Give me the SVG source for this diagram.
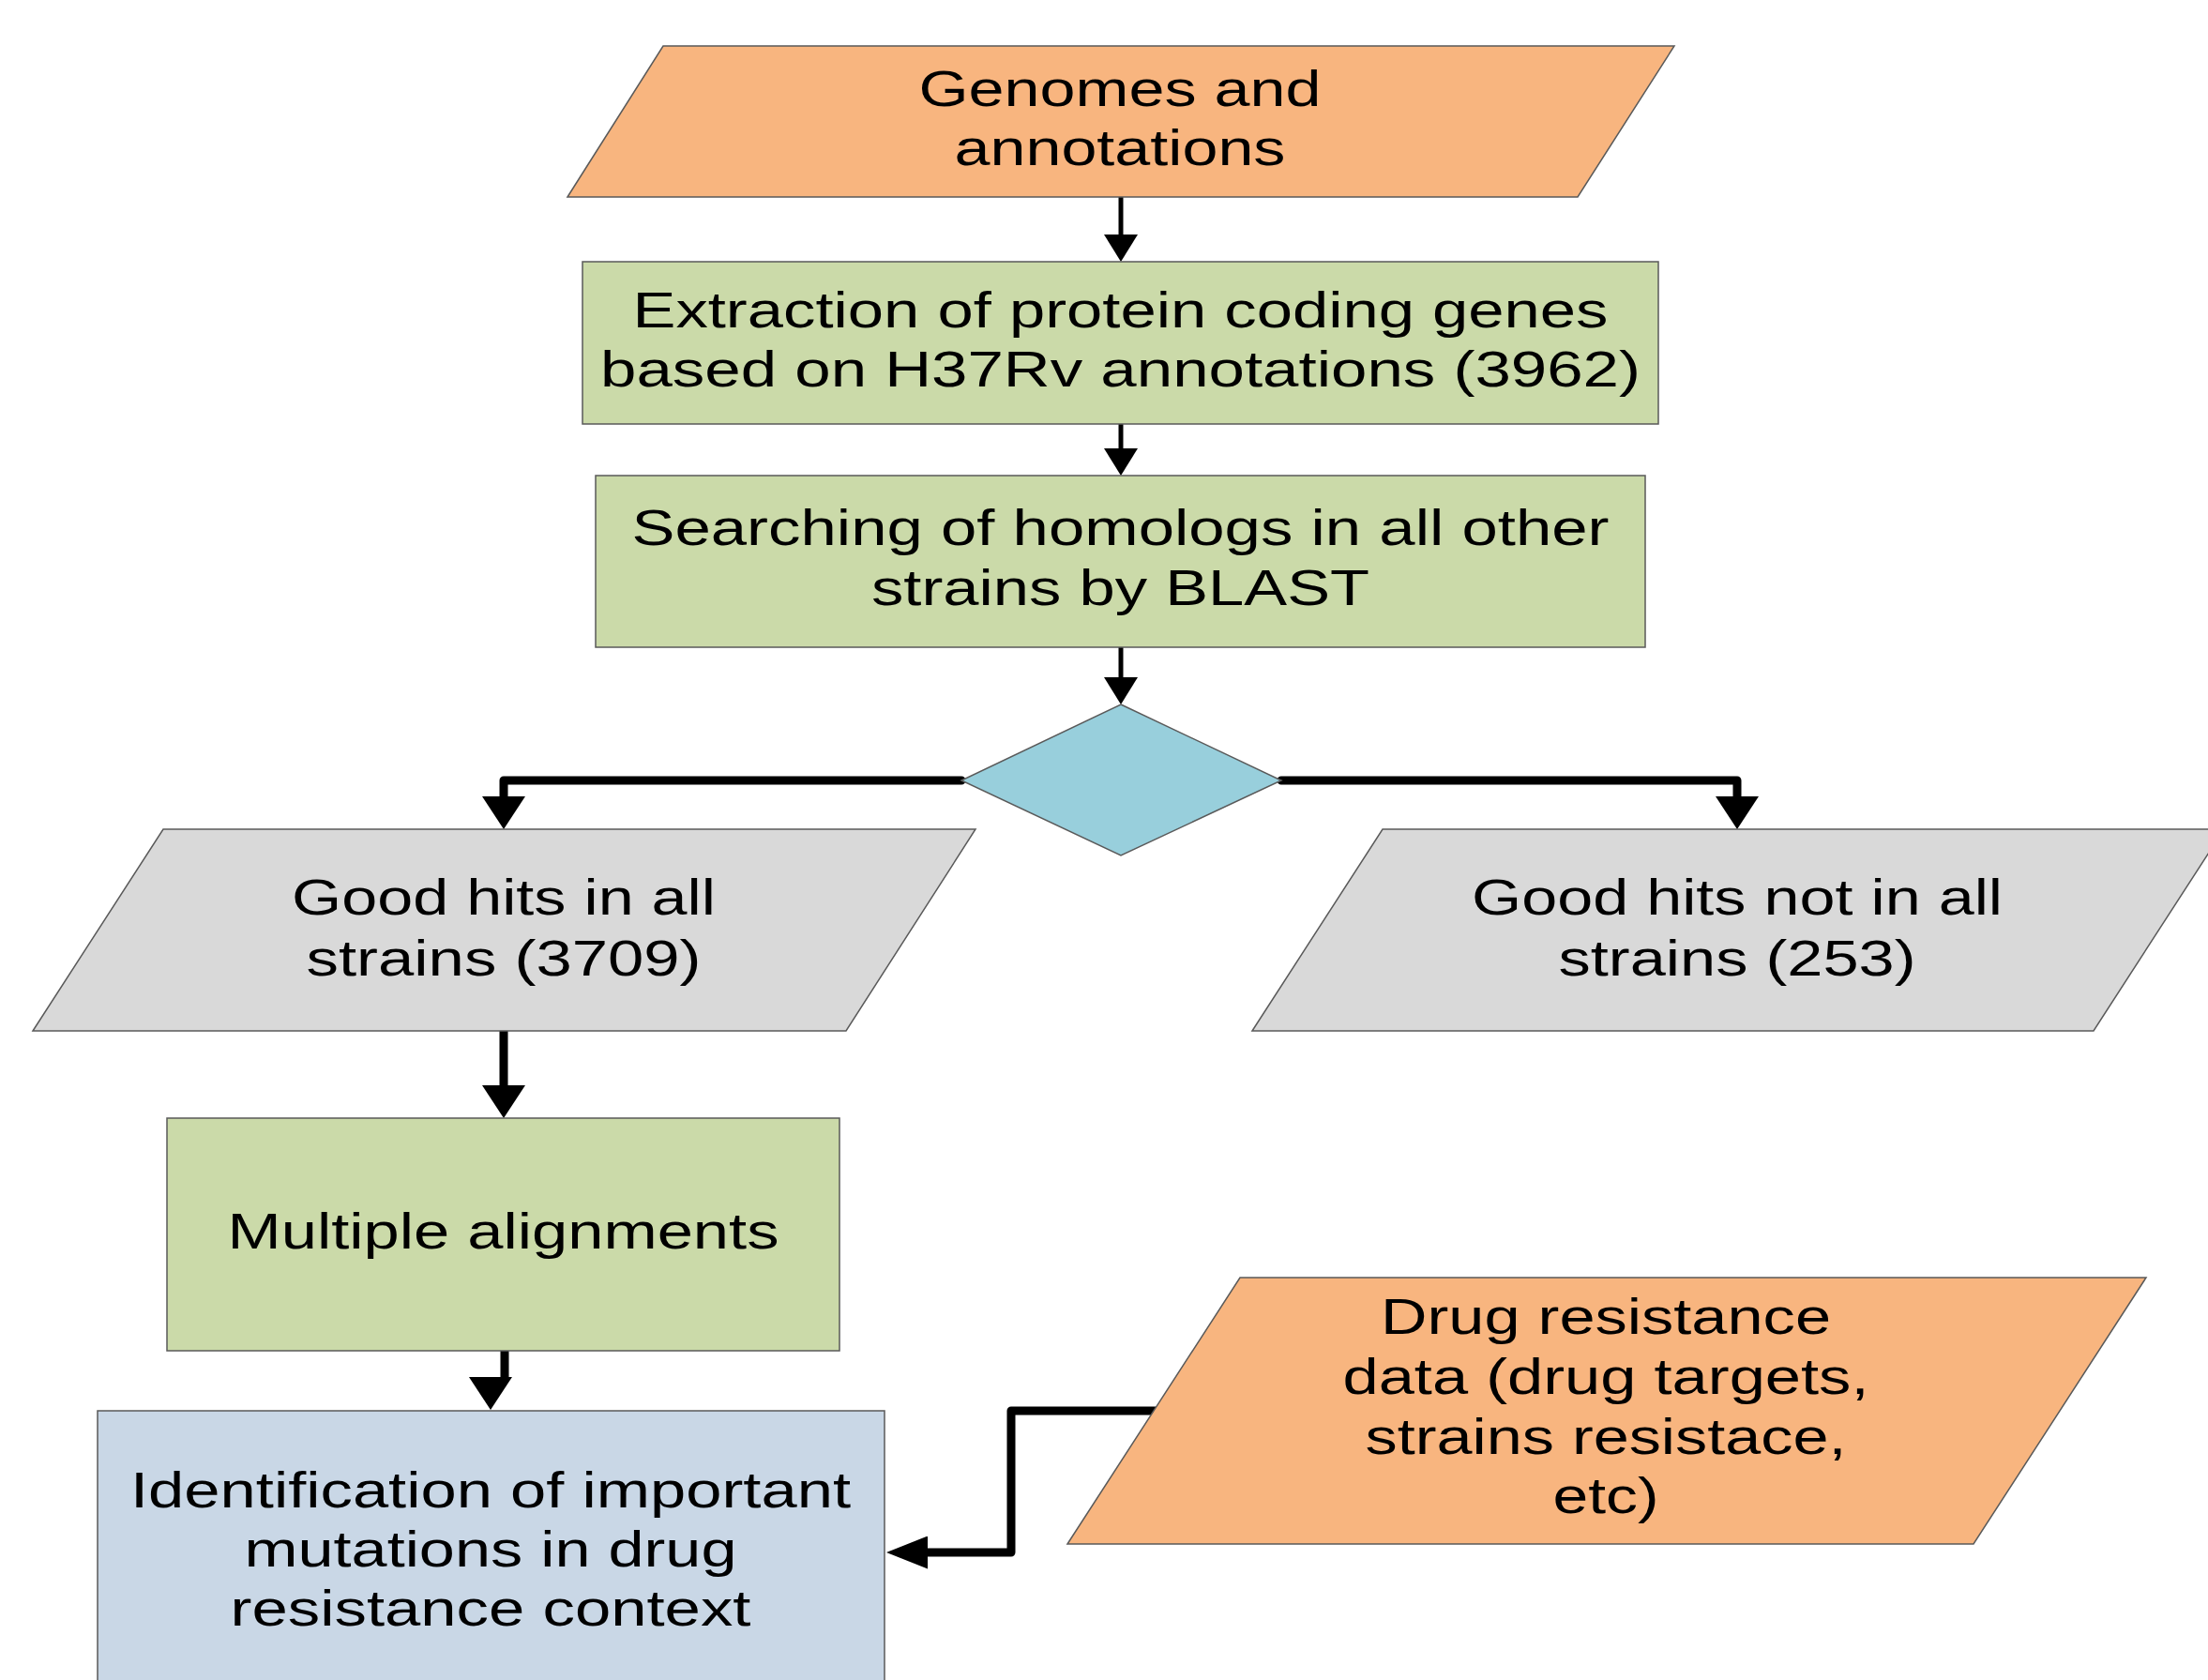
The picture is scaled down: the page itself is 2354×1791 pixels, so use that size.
<svg xmlns="http://www.w3.org/2000/svg" width="2354" height="1791" viewBox="0 0 2354 1791">
<style>
.node{stroke:#5a5a5a;stroke-width:1.5}
.orange{fill:#F8B57F}
.green{fill:#CBDAA9}
.gray{fill:#D9D9D9}
.teal{fill:#98CFDC}
.blue{fill:#C9D7E6}
text{font-family:"Liberation Sans",Arial,sans-serif;font-size:53px;fill:#000;text-anchor:middle}
.thin{fill:none;stroke:#000;stroke-width:5;marker-end:url(#ah)}
.thick{fill:none;stroke:#000;stroke-width:9;stroke-linejoin:round;stroke-linecap:round}
</style>
<defs>
<marker id="ah" markerUnits="userSpaceOnUse" markerWidth="29" markerHeight="36" refX="1" refY="18" orient="auto"><path d="M0,0 L29,18 L0,36 z" fill="#000"/></marker>
<marker id="aw" markerUnits="userSpaceOnUse" markerWidth="35" markerHeight="46" refX="1" refY="23" orient="auto"><path d="M0,0 L35,23 L0,46 z" fill="#000"/></marker>
<marker id="ahz" markerUnits="userSpaceOnUse" markerWidth="44" markerHeight="35" refX="1" refY="17.5" orient="auto"><path d="M0,0 L44,17.5 L0,35 z" fill="#000"/></marker>
</defs>
<rect width="2354" height="1791" fill="#fff"/>
<g id="connectors">
<path class="thin" d="M1195,210 V251"/>
<path class="thin" d="M1195,452 V479"/>
<path class="thin" d="M1195,690 V723"/>
<path class="thick" marker-end="url(#aw)" d="M1025,832 H537 V850"/>
<path class="thick" marker-end="url(#aw)" d="M1366,832 H1852 V850"/>
<path class="thick" marker-end="url(#aw)" d="M537,1099 V1158"/>
<path class="thick" style="stroke-linecap:butt" marker-end="url(#aw)" d="M538,1440 V1469 M523,1468 V1469"/>
<path class="thick" marker-end="url(#ahz)" d="M1232,1504 H1078 V1655 H988"/>
</g>
<g id="genomes">
<polygon class="node orange" points="605,210 707,49 1785,49 1682,210"/>
<text x="1194" y="113" textLength="429" lengthAdjust="spacingAndGlyphs">Genomes and</text>
<text x="1194" y="176" textLength="353" lengthAdjust="spacingAndGlyphs">annotations</text>
</g>
<g id="extraction">
<rect class="node green" x="621" y="279" width="1147" height="173"/>
<text x="1194.5" y="349" textLength="1040" lengthAdjust="spacingAndGlyphs">Extraction of protein coding genes</text>
<text x="1194.5" y="412" textLength="1109" lengthAdjust="spacingAndGlyphs">based on H37Rv annotations (3962)</text>
</g>
<g id="searching">
<rect class="node green" x="635" y="507" width="1119" height="183"/>
<text x="1194.5" y="581" textLength="1042" lengthAdjust="spacingAndGlyphs">Searching of homologs in all other</text>
<text x="1194.5" y="645" textLength="531" lengthAdjust="spacingAndGlyphs">strains by BLAST</text>
</g>
<g id="decision">
<polygon class="node teal" points="1195,751 1366,832 1195,912 1025,832"/>
</g>
<g id="good-all">
<polygon class="node gray" points="35,1099 174,884 1040,884 902,1099"/>
<text x="537" y="975" textLength="452" lengthAdjust="spacingAndGlyphs">Good hits in all</text>
<text x="537" y="1040" textLength="421" lengthAdjust="spacingAndGlyphs">strains (3709)</text>
</g>
<g id="good-not-all">
<polygon class="node gray" points="1335,1099 1474,884 2371,884 2232,1099"/>
<text x="1852" y="975" textLength="566" lengthAdjust="spacingAndGlyphs">Good hits not in all</text>
<text x="1852" y="1040" textLength="381" lengthAdjust="spacingAndGlyphs">strains (253)</text>
</g>
<g id="multiple">
<rect class="node green" x="178" y="1192" width="717" height="248"/>
<text x="536.5" y="1331" textLength="588" lengthAdjust="spacingAndGlyphs">Multiple alignments</text>
</g>
<g id="identification">
<rect class="node blue" x="104" y="1504" width="839" height="320"/>
<text x="523" y="1607" textLength="768" lengthAdjust="spacingAndGlyphs">Identification of important</text>
<text x="523" y="1670" textLength="525" lengthAdjust="spacingAndGlyphs">mutations in drug</text>
<text x="523" y="1733" textLength="555" lengthAdjust="spacingAndGlyphs">resistance context</text>
</g>
<g id="drug-data">
<polygon class="node orange" points="1138,1646 1322,1362 2288,1362 2104,1646"/>
<text x="1712" y="1422" textLength="480" lengthAdjust="spacingAndGlyphs">Drug resistance</text>
<text x="1712" y="1486" textLength="561" lengthAdjust="spacingAndGlyphs">data (drug targets,</text>
<text x="1712" y="1550" textLength="513" lengthAdjust="spacingAndGlyphs">strains resistace,</text>
<text x="1712" y="1613" textLength="113" lengthAdjust="spacingAndGlyphs">etc)</text>
</g>
</svg>
